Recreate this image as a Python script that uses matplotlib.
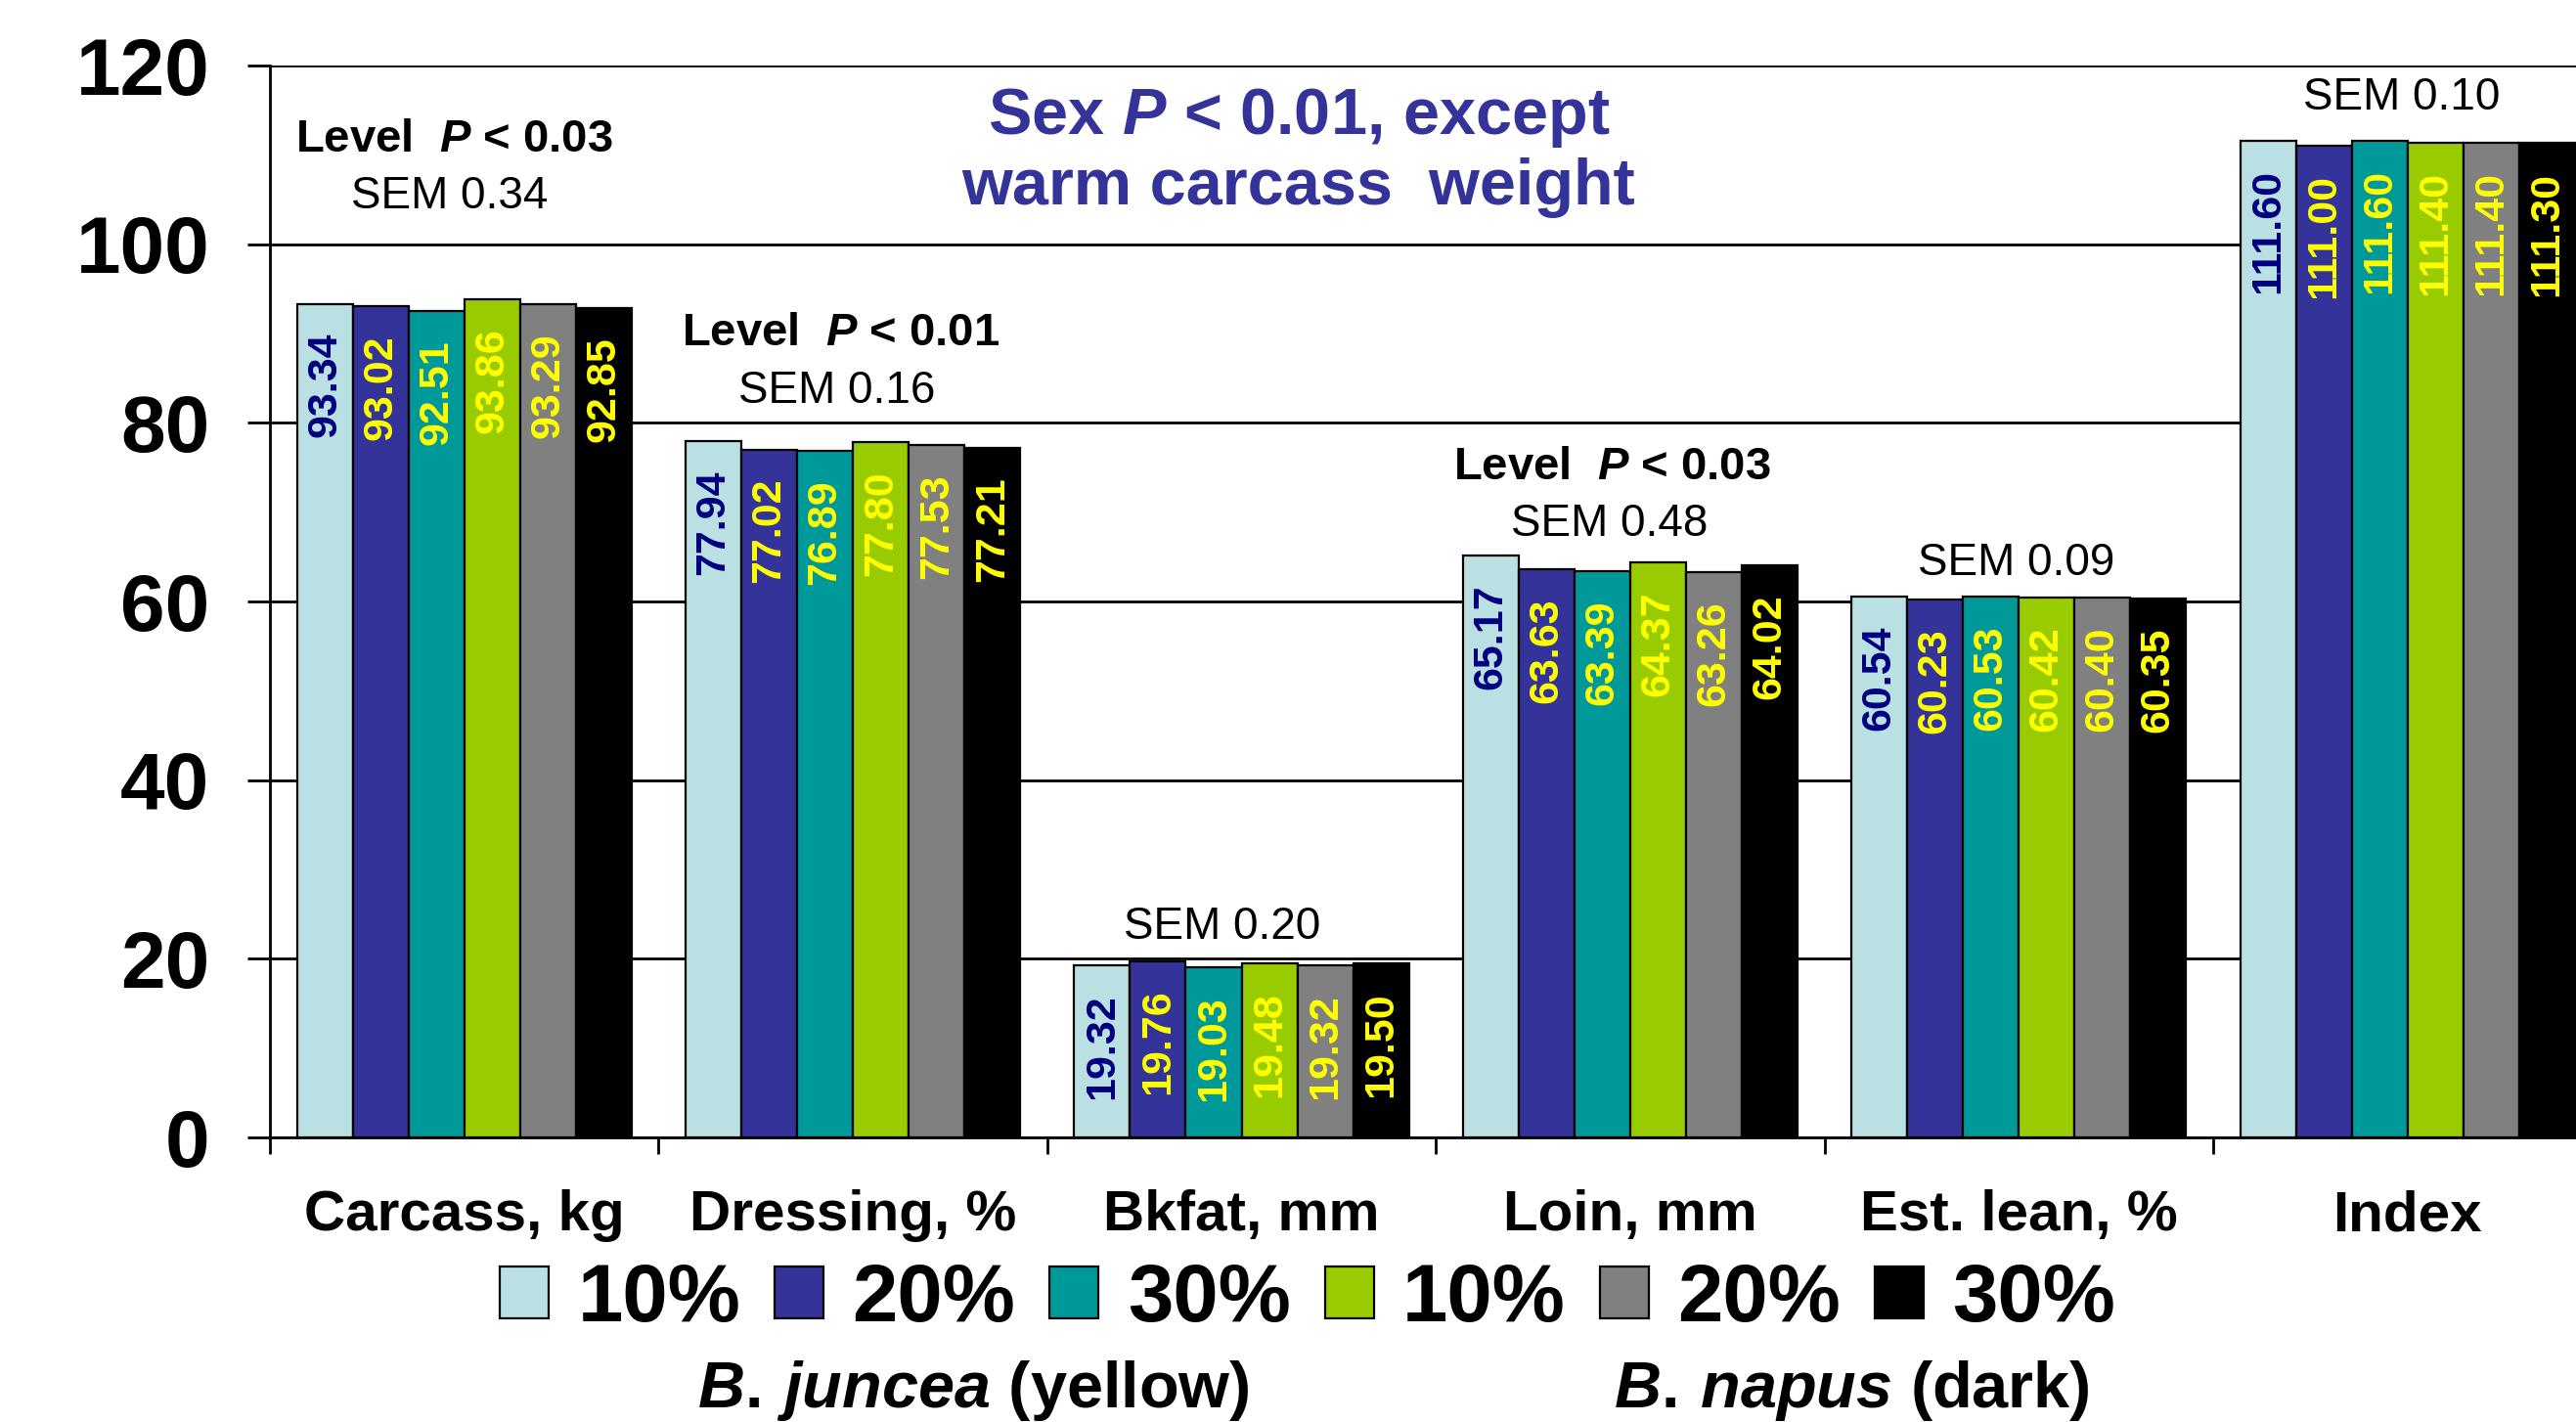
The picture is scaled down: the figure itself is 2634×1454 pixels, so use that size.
import matplotlib
matplotlib.use("Agg")
import matplotlib.pyplot as plt
from matplotlib.patches import Patch
from matplotlib import font_manager
import numpy as np

# data
categories = ["Carcass, kg", "Dressing, %", "Bkfat, mm", "Loin, mm", "Est. lean, %", "Index"]
carcass = [93.34, 93.02, 92.51, 93.86, 93.29, 92.85]
dressing = [77.94, 77.02, 76.89, 77.80, 77.53, 77.21]
bkfat = [19.32, 19.76, 19.03, 19.48, 19.32, 19.50]
loin = [65.17, 63.63, 63.39, 64.37, 63.26, 64.02]
lean = [60.54, 60.23, 60.53, 60.42, 60.40, 60.35]
index = [111.60, 111.00, 111.60, 111.40, 111.40, 111.30]
series_labels = ["10%", "20%", "30%", "10%", "20%", "30%"]
sem_labels = ["SEM 0.34", "SEM 0.16", "SEM 0.20", "SEM 0.48", "SEM 0.09", "SEM 0.10"]

colores = ["#BBE0E3", "#333399", "#009999", "#99CC00", "#808080", "#000000"]
color_etiqueta = ["#000080", "#FFFF00", "#FFFF00", "#FFFF00", "#FFFF00", "#FFFF00"]

valores = np.array([carcass, dressing, bkfat, loin, lean, index])  # rows = categories

plt.rcParams['font.family'] = ['Liberation Sans', 'DejaVu Sans']
plt.rcParams['mathtext.fontset'] = 'custom'
plt.rcParams['mathtext.rm'] = 'Liberation Sans:bold'
plt.rcParams['mathtext.it'] = 'Liberation Sans:italic:bold'
plt.rcParams['mathtext.bf'] = 'Liberation Sans:bold'

nombres = {f.name for f in font_manager.fontManager.ttflist}
if 'Liberation Sans Narrow' in nombres:
    fuente_barra, tam_barra = 'Liberation Sans Narrow', 37
else:
    fuente_barra, tam_barra = 'Liberation Sans', 31

fig = plt.figure(figsize=(26.34, 14.54), dpi=100)
ax = fig.add_axes([0.1048, 0.2001, 0.9052, 0.7538])

x = np.arange(len(categories))
ancho = 0.1435
for j in range(6):
    pos = x + (j - 2.5) * ancho
    barras = ax.bar(pos, valores[:, j], width=ancho, color=colores[j],
                    edgecolor='black', linewidth=1.6, zorder=3)
    for b, v in zip(barras, valores[:, j]):
        ax.annotate(f"{v:.2f}", xy=(b.get_x() + b.get_width() / 2, v),
                    xytext=(0, -21), textcoords='offset points',
                    rotation=90, ha='center', va='top',
                    fontsize=tam_barra, fontweight='bold', family=fuente_barra,
                    color=color_etiqueta[j], zorder=4)

ax.set_xlim(-0.5, 5.5)
ax.set_ylim(0, 120)
ax.set_yticks(np.arange(0, 121, 20))
ax.set_yticklabels([str(v) for v in range(0, 121, 20)], fontsize=59, fontweight='bold')
ax.tick_params(axis='y', direction='out', length=16.5, width=2, pad=28)
ax.set_xticks(np.arange(-0.5, 6, 1))
ax.set_xticklabels([])
ax.tick_params(axis='x', direction='out', length=12, width=2)
ax.yaxis.grid(True, color='black', linewidth=2)
ax.set_axisbelow(True)
for lado in ['top', 'right']:
    ax.spines[lado].set_visible(False)
ax.spines['left'].set_linewidth(2)
ax.spines['bottom'].set_linewidth(2)

# category names under the axis
for i, nombre in enumerate(categories):
    ax.text(i, -0.0868, nombre, transform=ax.get_xaxis_transform(), ha='center',
            va='baseline', fontsize=42, fontweight='bold')

# SEM / level notes
sem_pos = [(-0.039, 104.0), (0.958, 82.19), (1.951, 22.25), (2.946, 67.29), (3.994, 63.01), (4.986, 115.07)]
for texto, (px, py) in zip(sem_labels, sem_pos):
    ax.text(px, py, texto, ha='center', va='baseline', fontsize=33, clip_on=False)

ax.text(-0.4345, 110.36, "Level  $P$ < 0.03", ha='left', va='baseline', fontsize=34, fontweight='bold')
ax.text(0.560, 88.66, "Level  $P$ < 0.01", ha='left', va='baseline', fontsize=34, fontweight='bold')
ax.text(2.545, 73.64, "Level  $P$ < 0.03", ha='left', va='baseline', fontsize=34, fontweight='bold')

ax.text(2.147, 112.33, "Sex $P$ < 0.01, except", ha='center', va='baseline',
        fontsize=48, fontweight='bold', color='#333399')
ax.text(2.147, 104.44, "warm carcass  weight", ha='center', va='baseline',
        fontsize=48, fontweight='bold', color='#333399')

# legend
manijas = [Patch(facecolor=c, edgecolor='black', linewidth=1.6) for c in colores]
fig.legend(manijas, series_labels, loc='center', bbox_to_anchor=(0.5076, 0.086), ncol=6,
           frameon=False, prop={'family': 'Liberation Sans', 'weight': 'bold', 'size': 60},
           handlelength=0.6, handleheight=0.6, handletextpad=0.35, columnspacing=0.42,
           borderpad=0, borderaxespad=0)

fig.text(0.378, 0.0103, r"$B.\,juncea$ (yellow)", ha='center', va='baseline', fontsize=48, fontweight='bold')
fig.text(0.719, 0.0103, r"$B.\,napus$ (dark)", ha='center', va='baseline', fontsize=48, fontweight='bold')

fig.savefig("out.png", dpi=100)
